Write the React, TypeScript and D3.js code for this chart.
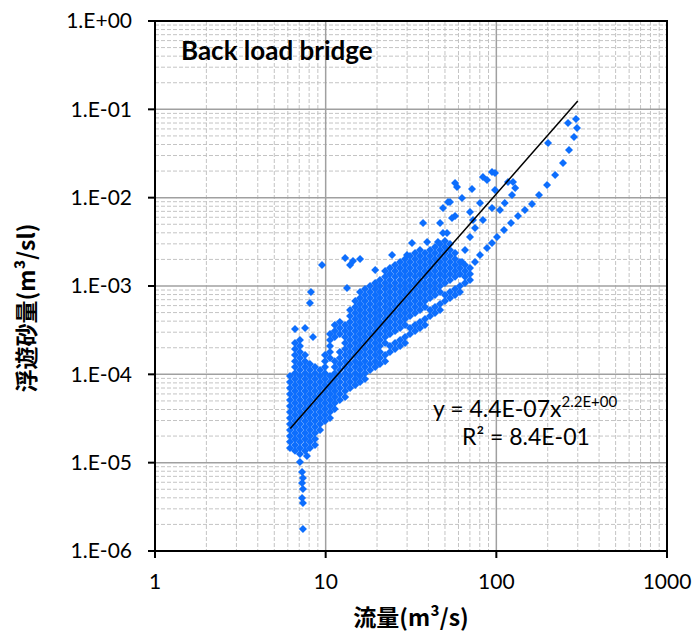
import React from "react";
import * as d3 from "d3";

const WIDTH = 695;
const HEIGHT = 632;
const PLOT = { left: 155, right: 667, top: 21, bottom: 551 };

const xTickValues = [1, 10, 100, 1000];
const xTickLabels = ["1", "10", "100", "1000"];
const yTickValues = [1e-6, 1e-5, 1e-4, 1e-3, 1e-2, 1e-1, 1];
const yTickLabels = ["1.E-06", "1.E-05", "1.E-04", "1.E-03", "1.E-02", "1.E-01", "1.E+00"];

// Power-law fit y = a * x^b
const fitCoef = 4.4e-7;
const fitExp = 2.2;
const fitFlowRange = [6.2, 300];

// Low-flow cluster: flow value per column and the sediment loads observed at it
const lowFlowQ = [6.18, 6.61, 7.07, 7.57, 8.09, 8.66, 9.27];
const lowFlowC = [
  [9.58e-5, 8.2e-5, 7.01e-5, 6.0e-5, 5.13e-5, 4.38e-5, 3.75e-5, 3.21e-5, 2.74e-5, 2.35e-5, 2.01e-5, 1.72e-5, 1.47e-5],
  [2.26e-4, 1.93e-4, 1.65e-4, 1.41e-4, 1.21e-4, 1.03e-4, 8.86e-5, 7.58e-5, 6.48e-5, 5.54e-5, 4.74e-5, 4.05e-5, 3.47e-5, 2.97e-5, 2.54e-5, 2.17e-5, 1.85e-5, 1.59e-5, 1.36e-5],
  [2.44e-4, 2.09e-4, 1.79e-4, 1.53e-4, 1.31e-4, 1.12e-4, 9.58e-5, 8.2e-5, 7.01e-5, 6.0e-5, 5.13e-5, 4.38e-5, 3.75e-5, 3.21e-5, 2.74e-5, 2.35e-5, 2.01e-5, 1.72e-5, 1.47e-5, 1.25e-5],
  [1.65e-4, 1.41e-4, 1.21e-4, 1.03e-4, 8.86e-5, 7.58e-5, 6.48e-5, 5.54e-5, 4.74e-5, 4.05e-5, 3.47e-5, 2.97e-5, 2.54e-5, 2.17e-5, 1.85e-5, 1.59e-5, 1.36e-5],
  [1.31e-4, 1.12e-4, 9.58e-5, 8.2e-5, 7.01e-5, 6.0e-5, 5.13e-5, 4.38e-5, 3.75e-5, 3.21e-5, 2.74e-5, 2.35e-5, 2.01e-5, 1.72e-5, 1.47e-5],
  [1.21e-4, 1.03e-4, 8.86e-5, 7.58e-5, 6.48e-5, 5.54e-5, 4.74e-5, 4.05e-5, 3.47e-5, 2.97e-5, 2.54e-5, 2.17e-5, 1.85e-5, 1.59e-5],
  [1.12e-4, 9.58e-5, 8.2e-5, 7.01e-5, 6.0e-5, 5.13e-5, 4.38e-5, 3.75e-5, 3.21e-5, 2.74e-5, 2.35e-5],
];

// Main band of the rising and falling limbs
const bandQ = [
  9.91, 10.6, 11.3, 12.1, 13.0, 13.9, 14.9, 15.9, 17.0, 18.2, 19.5, 20.8, 22.3, 23.8, 25.5, 27.3,
  29.2, 31.2, 33.4, 35.7, 38.2, 40.9, 43.7, 46.8, 50.0, 53.5, 57.3, 61.2, 65.5, 70.1,
];
const bandC = [
  [1.65e-4, 1.41e-4, 1.21e-4, 1.03e-4, 8.86e-5, 7.58e-5, 6.48e-5, 5.54e-5, 4.74e-5, 4.05e-5, 3.47e-5, 2.97e-5],
  [2.86e-4, 2.44e-4, 2.09e-4, 1.79e-4, 1.53e-4, 9.58e-5, 8.2e-5, 7.01e-5, 6.0e-5, 5.13e-5, 4.38e-5, 3.75e-5, 3.21e-5],
  [3.61e-4, 3.09e-4, 2.64e-4, 1.41e-4, 1.21e-4, 1.03e-4, 8.86e-5, 7.58e-5, 6.48e-5, 5.54e-5, 4.74e-5, 4.05e-5],
  [3.91e-4, 3.34e-4, 2.86e-4, 1.79e-4, 1.53e-4, 1.31e-4, 1.12e-4, 9.58e-5, 8.2e-5, 7.01e-5, 6.0e-5, 5.13e-5],
  [3.61e-4, 3.09e-4, 2.64e-4, 2.26e-4, 1.93e-4, 1.65e-4, 1.41e-4, 1.21e-4, 1.03e-4, 8.86e-5, 7.58e-5, 6.48e-5, 5.54e-5],
  [5.35e-4, 4.57e-4, 3.91e-4, 3.34e-4, 2.86e-4, 2.44e-4, 2.09e-4, 1.79e-4, 1.53e-4, 1.31e-4, 1.12e-4, 9.58e-5, 8.2e-5, 7.01e-5],
  [6.76e-4, 5.78e-4, 4.94e-4, 4.23e-4, 3.61e-4, 3.09e-4, 2.64e-4, 2.26e-4, 1.93e-4, 1.65e-4, 1.41e-4, 1.21e-4, 1.03e-4, 8.86e-5, 7.58e-5],
  [8.55e-4, 7.31e-4, 6.25e-4, 5.35e-4, 4.57e-4, 3.91e-4, 3.34e-4, 2.86e-4, 2.44e-4, 2.09e-4, 1.79e-4, 1.53e-4, 1.31e-4, 1.12e-4, 9.58e-5, 8.2e-5],
  [9.24e-4, 7.9e-4, 6.76e-4, 5.78e-4, 4.94e-4, 4.23e-4, 3.61e-4, 3.09e-4, 2.64e-4, 2.26e-4, 1.93e-4, 1.65e-4, 1.41e-4, 1.21e-4, 1.03e-4, 8.86e-5],
  [1.0e-3, 8.55e-4, 7.31e-4, 6.25e-4, 5.35e-4, 4.57e-4, 3.91e-4, 3.34e-4, 2.86e-4, 2.44e-4, 2.09e-4, 1.79e-4, 1.53e-4, 1.31e-4, 1.12e-4],
  [1.08e-3, 9.24e-4, 7.9e-4, 6.76e-4, 5.78e-4, 4.94e-4, 4.23e-4, 3.61e-4, 3.09e-4, 2.64e-4, 2.26e-4, 1.93e-4, 1.65e-4, 1.41e-4, 1.21e-4],
  [1.17e-3, 1.0e-3, 8.55e-4, 7.31e-4, 6.25e-4, 5.35e-4, 4.57e-4, 3.91e-4, 3.34e-4, 2.86e-4, 2.44e-4, 2.09e-4, 1.79e-4, 1.53e-4, 1.31e-4],
  [1.48e-3, 1.27e-3, 1.08e-3, 9.24e-4, 7.9e-4, 6.76e-4, 5.78e-4, 4.94e-4, 4.23e-4, 3.61e-4, 3.09e-4, 2.64e-4, 2.26e-4, 1.65e-4, 1.41e-4],
  [1.6e-3, 1.37e-3, 1.17e-3, 1.0e-3, 8.55e-4, 7.31e-4, 6.25e-4, 5.35e-4, 4.57e-4, 3.91e-4, 3.34e-4, 2.86e-4, 2.09e-4, 1.79e-4],
  [1.73e-3, 1.48e-3, 1.27e-3, 1.08e-3, 9.24e-4, 7.9e-4, 6.76e-4, 5.78e-4, 4.94e-4, 4.23e-4, 3.61e-4, 3.09e-4, 2.26e-4, 1.93e-4],
  [1.87e-3, 1.6e-3, 1.37e-3, 1.17e-3, 1.0e-3, 8.55e-4, 7.31e-4, 6.25e-4, 5.35e-4, 4.57e-4, 3.91e-4, 3.34e-4, 2.44e-4, 2.09e-4],
  [2.02e-3, 1.73e-3, 1.48e-3, 1.27e-3, 1.08e-3, 9.24e-4, 7.9e-4, 6.76e-4, 5.78e-4, 4.94e-4, 4.23e-4, 3.61e-4, 2.64e-4, 2.26e-4],
  [2.19e-3, 1.87e-3, 1.6e-3, 1.37e-3, 1.17e-3, 1.0e-3, 8.55e-4, 7.31e-4, 6.25e-4, 5.35e-4, 4.57e-4, 3.34e-4, 2.86e-4],
  [2.36e-3, 2.02e-3, 1.73e-3, 1.48e-3, 1.27e-3, 1.08e-3, 9.24e-4, 7.9e-4, 6.76e-4, 5.78e-4, 4.94e-4, 3.61e-4, 3.09e-4],
  [2.19e-3, 1.87e-3, 1.6e-3, 1.37e-3, 1.17e-3, 1.0e-3, 8.55e-4, 7.31e-4, 6.25e-4, 5.35e-4, 3.91e-4, 3.34e-4],
  [2.36e-3, 2.02e-3, 1.73e-3, 1.48e-3, 1.27e-3, 1.08e-3, 9.24e-4, 7.9e-4, 6.76e-4, 5.78e-4, 4.23e-4, 3.61e-4],
  [2.56e-3, 2.19e-3, 1.87e-3, 1.6e-3, 1.37e-3, 1.17e-3, 1.0e-3, 8.55e-4, 7.31e-4, 5.35e-4, 4.57e-4],
  [2.77e-3, 2.36e-3, 2.02e-3, 1.73e-3, 1.48e-3, 1.27e-3, 1.08e-3, 9.24e-4, 7.9e-4, 5.78e-4, 4.94e-4],
  [2.99e-3, 2.56e-3, 2.19e-3, 1.87e-3, 1.6e-3, 1.37e-3, 1.17e-3, 1.0e-3, 8.55e-4, 6.25e-4, 5.35e-4],
  [3.23e-3, 2.77e-3, 2.36e-3, 2.02e-3, 1.73e-3, 1.48e-3, 1.27e-3, 1.08e-3, 7.9e-4, 6.76e-4],
  [2.99e-3, 2.56e-3, 2.19e-3, 1.87e-3, 1.6e-3, 1.37e-3, 1.17e-3, 8.55e-4, 7.31e-4],
  [2.36e-3, 2.02e-3, 1.73e-3, 1.48e-3, 1.27e-3, 9.24e-4, 7.9e-4],
  [1.87e-3, 1.6e-3, 1.37e-3, 1.0e-3, 8.55e-4],
  [1.73e-3, 1.48e-3, 1.27e-3, 1.08e-3],
  [1.6e-3, 1.37e-3, 1.17e-3],
];

// Isolated low readings below the low-flow cluster
const lowTail: [number, number][] = [
  [7.07, 1.02e-5], [7.77, 1.19e-5], [7.27, 7.84e-6], [7.36, 6.71e-6], [7.27, 5.89e-6],
  [7.36, 5.03e-6], [7.27, 3.98e-6], [7.36, 3.49e-6], [7.36, 1.77e-6],
];

// Scattered high readings above the main band
const upperScatter: [number, number][] = [
  [8.09, 6.42e-4], [8.2, 8.55e-4], [6.61, 3.26e-4], [7.57, 3.34e-4], [8.43, 2.64e-4], [9.52, 1.73e-3],
  [13.0, 2.07e-3], [13.9, 1.73e-3], [14.46, 1.92e-3], [15.9, 2.02e-3], [19.5, 1.52e-3], [13.33, 9.48e-4],
  [24.5, 2.24e-3], [29.96, 2.24e-3], [32.06, 3.07e-3], [35.7, 2.56e-3], [37.2, 5.17e-3], [39.3, 3.15e-3],
  [45.5, 3.15e-3], [46.8, 5.17e-3], [48.7, 7.64e-3], [52.1, 8.93e-3], [57.3, 6.2e-3], [51.4, 3.98e-3],
  [55.0, 5.89e-3], [57.3, 1.47e-2], [58.8, 1.32e-2], [62.9, 9.92e-3], [70.1, 6.88e-3], [72.0, 1.25e-2],
  [80.2, 8.7e-3], [83.5, 1.71e-2], [88.2, 1.58e-2], [94.3, 1.95e-2], [98.2, 1.9e-2], [48.7, 3.98e-3],
  [73.0, 5.59e-3], [53.5, 8.93e-3],
];

// Readings just below the fitted line at high flow
const midLimb: [number, number][] = [
  [65.5, 2.56e-3], [62.9, 1.87e-3], [70.1, 3.59e-3], [75.0, 4.54e-3], [83.5, 5.59e-3], [94.3, 7.64e-3],
  [105, 7.25e-3], [112, 8.7e-3], [123.5, 1.07e-2], [129, 1.29e-2], [125.2, 1.5e-2], [117, 1.5e-2],
  [98.2, 1.22e-2],
];

// Lower limb up to the flood peak
const lowerLimb: [number, number][] = [
  [75.0, 1.87e-3], [80.2, 2.24e-3], [88.2, 2.69e-3], [94.3, 3.07e-3], [100.9, 3.59e-3], [110.9, 4.31e-3],
  [121.9, 5.17e-3], [134.0, 6.2e-3], [147, 7.25e-3], [161.8, 8.48e-3], [177.8, 1.07e-2], [198.2, 1.39e-2],
  [221, 1.81e-2], [245.9, 2.47e-2], [266.6, 3.47e-2], [285.1, 4.86e-2], [297, 6.15e-2], [293, 7.77e-2],
  [263, 7.0e-2], [200.9, 4.16e-2],
];

const columnsToPoints = (qs: number[], cs: number[][]): [number, number][] =>
  qs.flatMap((q, i) => cs[i].map((c) => [q, c] as [number, number]));

export default function App() {
  const x = d3.scaleLog().domain([1, 1000]).range([PLOT.left, PLOT.right]);
  const y = d3.scaleLog().domain([1e-6, 1]).range([PLOT.bottom, PLOT.top]);

  const points: [number, number][] = [
    ...columnsToPoints(lowFlowQ, lowFlowC),
    ...columnsToPoints(bandQ, bandC),
    ...lowTail,
    ...upperScatter,
    ...midLimb,
    ...lowerLimb,
  ];

  const minorX: number[] = [];
  [1, 10, 100].forEach((d) => {
    for (let k = 2; k <= 9; k++) minorX.push(d * k);
  });
  const minorY: number[] = [];
  [1e-6, 1e-5, 1e-4, 1e-3, 1e-2, 1e-1].forEach((d) => {
    for (let k = 2; k <= 9; k++) minorY.push(d * k);
  });

  const fitLine = d3
    .line<number>()
    .x((q) => x(q))
    .y((q) => y(fitCoef * Math.pow(q, fitExp)));

  const r = 4;
  const diamond = `M0,${-r}L${r},0L0,${r}L${-r},0Z`;
  const tickFont = "Lato, 'Liberation Sans', sans-serif";
  const cjkFont = "'Noto Sans CJK JP', 'Noto Sans', sans-serif";

  return (
    <svg
      width={WIDTH}
      height={HEIGHT}
      style={{ position: "absolute", left: 0, top: 0, display: "block" }}
    >
      <rect width={WIDTH} height={HEIGHT} fill="#fff" />
      {/* minor grid */}
      <g stroke="#c4c4c4" strokeWidth={1} strokeDasharray="4 2">
        {minorX.map((v) => (
          <line key={`mx${v}`} x1={x(v)} x2={x(v)} y1={PLOT.top} y2={PLOT.bottom} />
        ))}
        {minorY.map((v) => (
          <line key={`my${v}`} x1={PLOT.left} x2={PLOT.right} y1={y(v)} y2={y(v)} />
        ))}
      </g>
      {/* major grid */}
      <g stroke="#a0a0a0" strokeWidth={1.5}>
        {xTickValues.slice(1, -1).map((v) => (
          <line key={`Mx${v}`} x1={x(v)} x2={x(v)} y1={PLOT.top} y2={PLOT.bottom} />
        ))}
        {yTickValues.slice(1, -1).map((v) => (
          <line key={`My${v}`} x1={PLOT.left} x2={PLOT.right} y1={y(v)} y2={y(v)} />
        ))}
      </g>
      {/* observations */}
      <g fill="#0d6efd">
        {points.map(([q, c], i) => (
          <path key={i} d={diamond} transform={`translate(${x(q)},${y(c)})`} />
        ))}
      </g>
      {/* power-law trend */}
      <path d={fitLine(fitFlowRange) || ""} fill="none" stroke="#000" strokeWidth={1.5} />
      {/* frame */}
      <rect
        x={PLOT.left}
        y={PLOT.top}
        width={PLOT.right - PLOT.left}
        height={PLOT.bottom - PLOT.top}
        fill="none"
        stroke="#000"
        strokeWidth={2}
      />
      {/* ticks */}
      <g stroke="#000" strokeWidth={2}>
        {yTickValues.map((v) => (
          <line key={`ty${v}`} x1={PLOT.left - 7} x2={PLOT.left} y1={y(v)} y2={y(v)} />
        ))}
        {xTickValues.map((v) => (
          <line key={`tx${v}`} x1={x(v)} x2={x(v)} y1={PLOT.bottom} y2={PLOT.bottom + 7} />
        ))}
      </g>
      <g fontFamily={tickFont} fontSize={21} fill="#000">
        {yTickValues.map((v, i) => (
          <text key={`ly${v}`} x={132} y={y(v)} dy="0.35em" textAnchor="end">
            {yTickLabels[i]}
          </text>
        ))}
        {xTickValues.map((v, i) => (
          <text key={`lx${v}`} x={x(v)} y={589} textAnchor="middle">
            {xTickLabels[i]}
          </text>
        ))}
      </g>
      <text x={181} y={60} fontFamily={tickFont} fontWeight="bold" fontSize={26} fill="#000">
        Back load bridge
      </text>
      <g fontFamily={tickFont} fontSize={23} fill="#000">
        <text x={433} y={417}>
          y = 4.4E-07x
          <tspan fontSize={15} dy={-10}>2.2E+00</tspan>
        </text>
        <text x={462} y={445}>R² = 8.4E-01</text>
      </g>
      <text
        x={(PLOT.left + PLOT.right) / 2}
        y={626}
        textAnchor="middle"
        fontFamily={cjkFont}
        fontWeight="bold"
        fontSize={23}
        fill="#000"
      >
        流量(m³/s)
      </text>
      <text
        transform={`translate(35,308) rotate(-90)`}
        textAnchor="middle"
        fontFamily={cjkFont}
        fontWeight="bold"
        fontSize={23}
        fill="#000"
      >
        浮遊砂量(m³/sl)
      </text>
    </svg>
  );
}
